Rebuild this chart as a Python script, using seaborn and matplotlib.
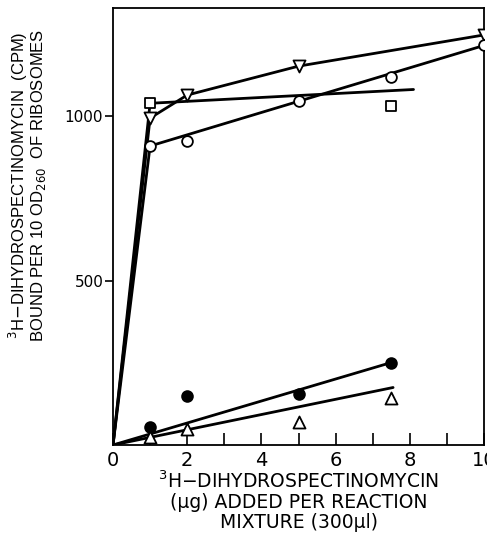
import matplotlib
matplotlib.use("Agg")
import matplotlib.pyplot as plt
import seaborn as sns
from matplotlib.ticker import MultipleLocator

# measured points
x_vtri = [1, 2, 5, 10]
y_vtri = [995, 1065, 1153, 1248]
x_sq = [1, 7.5]
y_sq = [1040, 1033]
x_circ = [1, 2, 5, 7.5, 10]
y_circ = [910, 924, 1047, 1120, 1216]
x_fcirc = [1, 2, 5, 7.5]
y_fcirc = [56, 150, 154, 251]
x_tri = [1, 2, 5, 7.5]
y_tri = [23, 48, 70, 144]

# drawn curves (hand-fitted in the original)
lx_vtri = [0, 1, 2, 5, 10]
ly_vtri = [0, 995, 1065, 1153, 1248]
lx_sq = [0, 1, 8.1]
ly_sq = [0, 1040, 1082]
lx_circ = [0, 1, 10]
ly_circ = [0, 910, 1216]
lx_fcirc = [0, 7.5]
ly_fcirc = [0, 251]
lx_tri = [0, 7.55]
ly_tri = [0, 175]

sns.set_style("ticks")
plt.rcParams["font.family"] = ["DejaVu Sans"]
plt.rcParams["text.color"] = "black"
plt.rcParams["axes.labelcolor"] = "black"
plt.rcParams["xtick.color"] = "black"
plt.rcParams["ytick.color"] = "black"

fig = plt.figure(figsize=(4.87, 5.40), dpi=100)
ax = fig.add_axes([113/487, 95/540, 371/487, 437/540])

lines = [(lx_vtri, ly_vtri), (lx_sq, ly_sq), (lx_circ, ly_circ),
         (lx_fcirc, ly_fcirc), (lx_tri, ly_tri)]
for lx, ly in lines:
    sns.lineplot(x=lx, y=ly, ax=ax, color="black", linewidth=2.0,
                 estimator=None, sort=False, zorder=2)

pts = [(x_vtri, y_vtri, "v", "white", 75),
       (x_sq, y_sq, "s", "white", 55),
       (x_circ, y_circ, "o", "white", 60),
       (x_fcirc, y_fcirc, "o", "black", 60),
       (x_tri, y_tri, "^", "white", 75)]
for px, py, m, fc, s in pts:
    sns.scatterplot(x=px, y=py, ax=ax, marker=m, s=s, facecolor=fc,
                    edgecolor="black", linewidth=1.3, zorder=3, legend=False)

ax.set_xlim(0, 10)
ax.set_ylim(0, 1330)
ax.xaxis.set_major_locator(MultipleLocator(2))
ax.xaxis.set_minor_locator(MultipleLocator(1))
ax.tick_params(axis="x", which="both", direction="in", length=9, width=1.2,
               labelsize=14, pad=4, colors="black")
ax.set_yticks([500, 1000])
ax.tick_params(axis="y", direction="out", length=6, width=1.2, labelsize=11,
               pad=1, colors="black")
for sp in ax.spines.values():
    sp.set_visible(True)
    sp.set_linewidth(1.3)
    sp.set_color("black")

ax.set_xlabel("$^{3}$H$-$DIHYDROSPECTINOMYCIN\n(\u03bcg) ADDED PER REACTION\nMIXTURE (300\u03bcl)",
              fontsize=13.5, linespacing=1.05, labelpad=1, color="black")
ax.set_ylabel("$^{3}$H$-$DIHYDROSPECTINOMYCIN  (CPM)\nBOUND PER 10 OD$_{260}$  OF RIBOSOMES",
              fontsize=12, linespacing=0.92, family=["Liberation Sans"], color="black")
ax.yaxis.set_label_coords(-0.175, 0.595)

fig.savefig("out.png", dpi=100)
